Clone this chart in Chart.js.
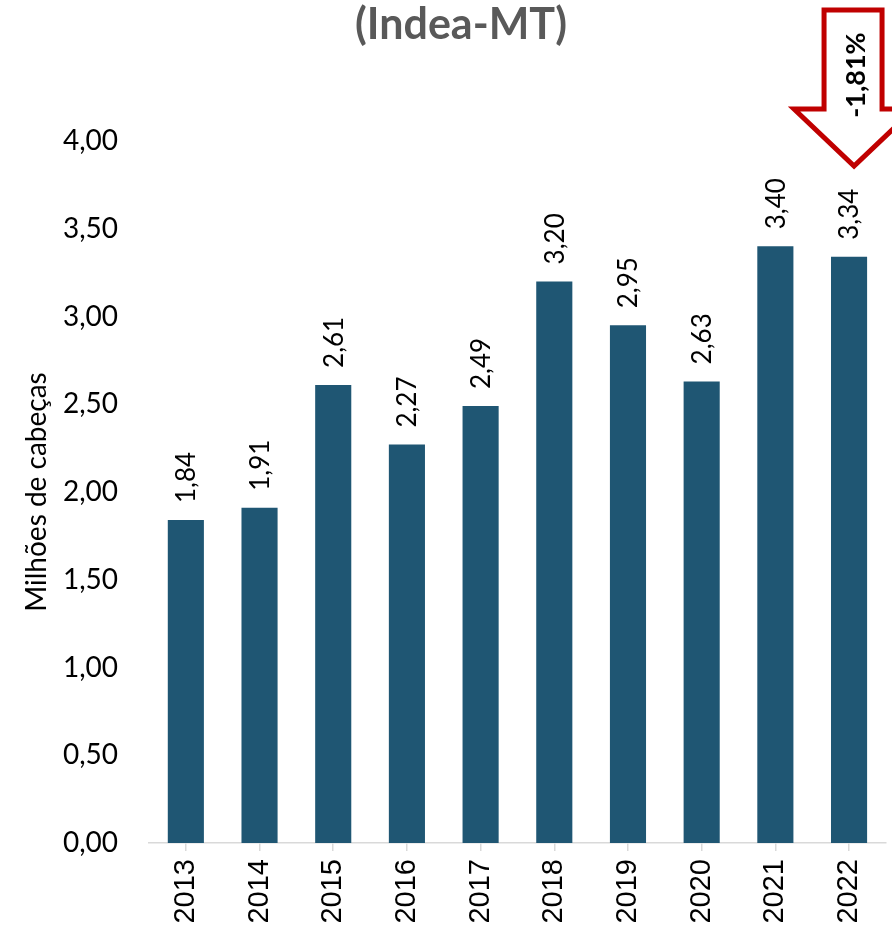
<!DOCTYPE html>
<html>
<head>
<meta charset="utf-8">
<script src="https://cdn.jsdelivr.net/npm/chart.js@4.4.1/dist/chart.umd.min.js"></script>
<style>
html,body{margin:0;padding:0;background:#fff;}
#wrap{width:892px;height:929px;position:relative;}
</style>
</head>
<body>
<div id="wrap"><canvas id="c" width="892" height="929"></canvas></div>
<script>
const categories = ['2013','2014','2015','2016','2017','2018','2019','2020','2021','2022'];
const values = [1.84, 1.91, 2.61, 2.27, 2.49, 3.20, 2.95, 2.63, 3.40, 3.34];
const yTicks = [0, 0.5, 1, 1.5, 2, 2.5, 3, 3.5, 4];
const titleText = '(Indea-MT)';
const yTitle = 'Milhões de cabeças';
const changeText = '-1,81%';

const fmt = v => v.toFixed(2).replace('.', ',');
const CAL = 'Lato, "Open Sans", sans-serif';

const extras = {
  id: 'extras',
  afterDatasetsDraw(chart) {
    const ctx = chart.ctx;
    const meta = chart.getDatasetMeta(0);
    ctx.save();
    ctx.fillStyle = '#000';
    ctx.font = '26px ' + CAL;
    ctx.textAlign = 'left';
    ctx.textBaseline = 'middle';
    meta.data.forEach((bar, i) => {
      ctx.save();
      ctx.translate(bar.x, bar.y - 17);
      ctx.rotate(-Math.PI / 2);
      ctx.fillText(fmt(values[i]), 0, 1);
      ctx.restore();
    });
    ctx.restore();
  },
  afterDraw(chart) {
    const ctx = chart.ctx;
    ctx.save();
    // title
    ctx.fillStyle = '#595959';
    ctx.font = 'bold 43px ' + CAL;
    ctx.textAlign = 'center';
    ctx.textBaseline = 'alphabetic';
    ctx.fillText(titleText, 461, 39);
    // arrow annotation
    const xs = chart.scales.x;
    const cx = xs.getPixelForValue(categories.length - 1) + 5;
    ctx.beginPath();
    ctx.moveTo(cx - 30, 10);
    ctx.lineTo(cx + 28, 10);
    ctx.lineTo(cx + 28, 109);
    ctx.lineTo(cx + 60, 109);
    ctx.lineTo(cx, 166);
    ctx.lineTo(cx - 60, 109);
    ctx.lineTo(cx - 30, 109);
    ctx.closePath();
    ctx.fillStyle = '#fff';
    ctx.fill();
    ctx.lineWidth = 5;
    ctx.lineJoin = 'miter';
    ctx.strokeStyle = '#C00000';
    ctx.stroke();
    ctx.save();
    ctx.translate(cx + 1, 75);
    ctx.rotate(-Math.PI / 2);
    ctx.fillStyle = '#000';
    ctx.font = 'bold 27px ' + CAL;
    ctx.textAlign = 'center';
    ctx.textBaseline = 'middle';
    ctx.fillText(changeText, 0, 1);
    ctx.restore();
    ctx.restore();
  }
};

new Chart(document.getElementById('c'), {
  type: 'bar',
  data: {
    labels: categories,
    datasets: [{
      data: values,
      backgroundColor: '#1F5673',
      borderWidth: 0,
      barPercentage: 0.49,
      categoryPercentage: 1.0
    }]
  },
  options: {
    responsive: false,
    animation: false,
    devicePixelRatio: 1,
    layout: { padding: { top: 141, right: 3, left: 0, bottom: 0 } },
    plugins: { legend: { display: false }, tooltip: { enabled: false }, title: { display: false } },
    scales: {
      x: {
        grid: { display: true, drawOnChartArea: false, offset: false, color: '#D9D9D9', lineWidth: 1.5, tickLength: 8 },
        border: { display: true, color: '#D9D9D9', width: 1.5 },
        ticks: {
          color: '#000',
          font: { family: '"Liberation Sans", Arial, sans-serif', size: 29 },
          minRotation: 90, maxRotation: 90, autoSkip: false, padding: 8
        },
        afterFit(scale) { scale.height = 86; }
      },
      y: {
        min: 0, max: 4,
        afterBuildTicks(scale) { scale.ticks = yTicks.map(v => ({ value: v })); },
        grid: { display: false, drawTicks: false },
        border: { display: false },
        ticks: {
          color: '#000',
          font: { family: CAL, size: 28 },
          padding: 31,
          callback: v => fmt(v)
        },
        title: {
          display: true, text: yTitle, color: '#000',
          font: { family: CAL, size: 28 },
          padding: { top: 20, bottom: 0 }
        },
        afterFit(scale) { scale.width = 149; }
      }
    }
  },
  plugins: [extras]
});
</script>
</body>
</html>
